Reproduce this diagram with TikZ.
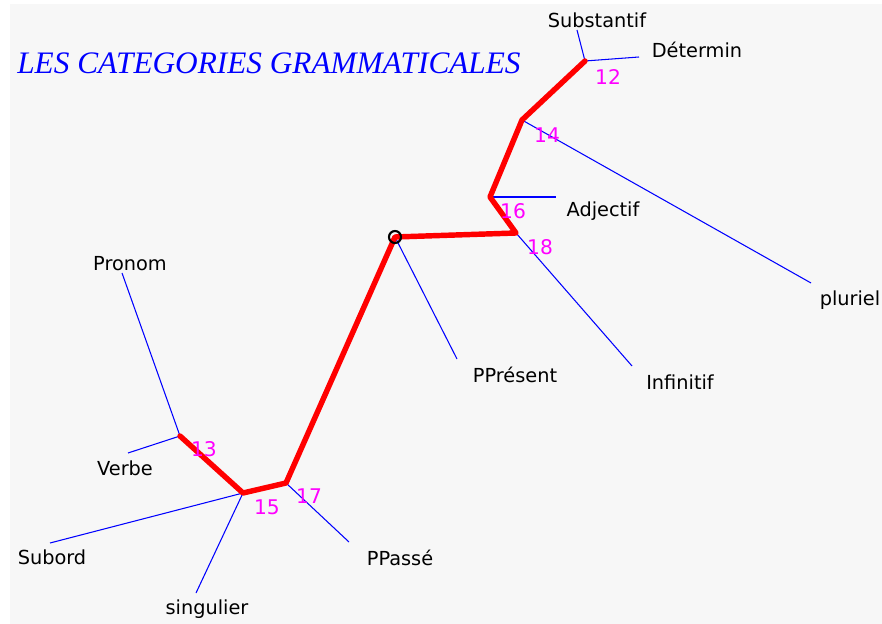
\documentclass[tikz,border=0pt]{standalone}
\usepackage{fontspec}
\setmainfont{DejaVu Sans}
\newfontfamily\titlefont{Liberation Serif}
\usepackage{tikz}
\definecolor{bgcol}{HTML}{F7F7F7}
\definecolor{rcol}{HTML}{FF0000}
\definecolor{bcol}{HTML}{0000FF}
\definecolor{mcol}{HTML}{FF00FF}
\tikzset{
  trunk/.style={rcol, line width=3.1pt, line join=round, line cap=round},
  twig/.style={bcol, line width=0.6pt},
  leaf/.style={black, font=\fontsize{11}{13}\selectfont, inner sep=0pt},
  num/.style={mcol, font=\fontsize{11.5}{13}\selectfont, inner sep=0pt}
}

\begin{document}
\begin{tikzpicture}[x=0.02cm, y=-0.02cm]
\useasboundingbox (0,0) rectangle (882,624);
\fill[white] (0,0) rectangle (882,624);
\fill[bgcol] (10,4) rectangle (882,624);
\node[bcol, font=\titlefont\itshape\fontsize{17.8}{19}\selectfont, anchor=west, inner sep=0pt] (title) at (17,63) {LES CATEGORIES GRAMMATICALES};
% junctions of the tree
\coordinate (j12) at (585,61);
\coordinate (j14) at (522,120);
\coordinate (j16) at (490,197);
\coordinate (j18) at (516,233);
\coordinate (root) at (395,237);
\coordinate (j17) at (286,483);
\coordinate (j15) at (243,493);
\coordinate (j13) at (180,436);
% free ends of the branches
\coordinate (eSubst) at (577,30);
\coordinate (eDet) at (639,57);
\coordinate (ePlur) at (811,283);
\coordinate (eAdj) at (556,197);
\coordinate (eInf) at (632,366);
\coordinate (ePres) at (457,359);
\coordinate (ePasse) at (349,542);
\coordinate (eSub) at (50,543);
\coordinate (eSing) at (196,593);
\coordinate (eVerb) at (128,453);
\coordinate (ePron) at (122,273);
% blue branches
\draw[twig] (j12) -- (eSubst);
\draw[twig] (j12) -- (eDet);
\draw[twig] (j14) -- (ePlur);
\draw[twig] (j16) -- (eAdj);
\draw[twig] (j18) -- (eInf);
\draw[twig] (root) -- (ePres);
\draw[twig] (j17) -- (ePasse);
\draw[twig] (j15) -- (eSub);
\draw[twig] (j15) -- (eSing);
\draw[twig] (j13) -- (eVerb);
\draw[twig] (j13) -- (ePron);
% red trunk
\draw[trunk] (j12) -- (j14) -- (j16) -- (j18) -- (root) -- (j17) -- (j15) -- (j13);
\draw[black, line width=1.2pt] (root) circle (6);
% leaf labels
\node[leaf] (substantif) at (597,20) {Substantif};
\node[leaf] (determin) at (697,50) {Détermin};
\node[leaf] (pluriel) at (850,300) {pluriel};
\node[leaf] (adjectif) at (603,211) {Adjectif};
\node[leaf] (infinitif) at (680,382) {Infinitif};
\node[leaf] (ppresent) at (515,375) {PPrésent};
\node[leaf] (ppasse) at (400,558) {PPassé};
\node[leaf] (subord) at (52,557) {Subord};
\node[leaf] (singulier) at (207,609) {singulier};
\node[leaf] (verbe) at (125,468) {Verbe};
\node[leaf] (pronom) at (130,264) {Pronom};
% node numbers
\node[num] (n12) at (608,77) {12};
\node[num] (n14) at (547,135) {14};
\node[num] (n16) at (513,211) {16};
\node[num] (n18) at (540,247) {18};
\node[num] (n13) at (204,449) {13};
\node[num] (n15) at (267,507) {15};
\node[num] (n17) at (309,496) {17};
\end{tikzpicture}
\end{document}
